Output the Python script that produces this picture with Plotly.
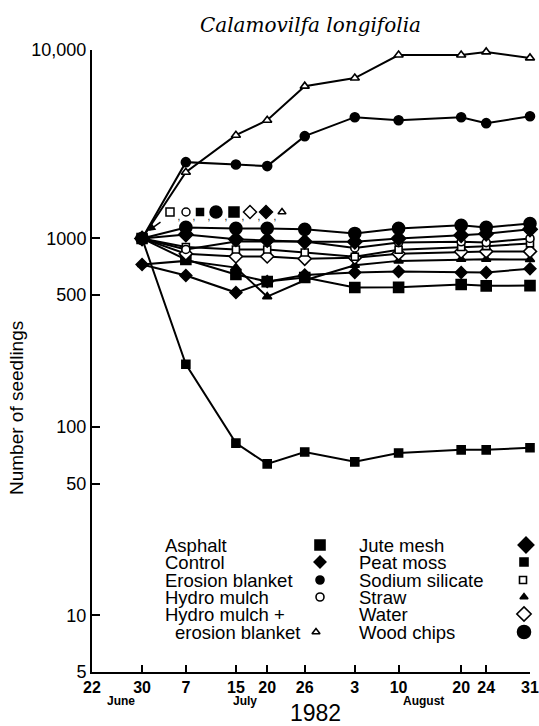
import plotly.graph_objects as go

# ---------------- data ----------------
dates = ["1982-06-30", "1982-07-07", "1982-07-15", "1982-07-20", "1982-07-26",
         "1982-08-03", "1982-08-10", "1982-08-20", "1982-08-24", "1982-08-31"]

hydro_mulch_erosion_blanket = [1000, 2245, 3530, 4240, 6430, 7100, 9400, 9400, 9770, 9080]
erosion_blanket = [1000, 2540, 2470, 2420, 3490, 4400, 4240, 4400, 4090, 4450]
wood_chips = [1000, 1144, 1130, 1130, 1117, 1063, 1130, 1173, 1144, 1201]
jute_mesh = [1000, 1050, 990, 980, 960, 960, 1000, 1040, 1060, 1117]
hydro_mulch = [1000, 874, 964, 964, 964, 890, 950, 960, 950, 1000]
sodium_silicate = [1000, 900, 874, 874, 842, 800, 870, 900, 910, 941]
water = [1000, 830, 802, 802, 780, 790, 830, 850, 853, 853]
straw = [727, 760, 700, 491, 600, 720, 760, 775, 775, 773]
control = [727, 636, 516, 590, 640, 660, 668, 660, 660, 690]
asphalt = [1000, 773, 643, 590, 620, 549, 550, 569, 560, 562]
peat_moss = [1000, 215, 82, 63.6, 73.6, 65.2, 72.7, 75.5, 75.5, 77.4]

x_tick_dates = ["1982-06-22", "1982-06-30", "1982-07-07", "1982-07-15", "1982-07-20",
                "1982-07-26", "1982-08-03", "1982-08-10", "1982-08-20", "1982-08-24",
                "1982-08-31"]
x_tick_text = ["22", "30", "7", "15", "20", "26", "3", "10", "20", "24", "31"]
y_tick_vals = [5, 10, 50, 100, 500, 1000, 10000]
y_tick_text = ["5", "10", "50", "100", "500", "1000", "10,000"]

title_text = "Calamovilfa longifolia"
y_title = "Number of seedlings"
year_text = "1982"
month_labels = ["June", "July", "August"]

legend_col1 = ["Asphalt", "Control", "Erosion blanket", "Hydro mulch", "Hydro mulch +", "erosion blanket"]
legend_col2 = ["Jute mesh", "Peat moss", "Sodium silicate", "Straw", "Water", "Wood chips"]

# ---------------- styles ----------------
series = [
    ("Hydro mulch + erosion blanket", hydro_mulch_erosion_blanket, "triangle-up", 8, False),
    ("Erosion blanket", erosion_blanket, "circle", 9, True),
    ("Peat moss", peat_moss, "square", 8, True),
    ("Asphalt", asphalt, "square", 10, True),
    ("Control", control, "diamond", 9, True),
    ("Straw", straw, "triangle-up", 8, True),
    ("Water", water, "diamond", 10, False),
    ("Sodium silicate", sodium_silicate, "square", 7, False),
    ("Hydro mulch", hydro_mulch, "circle", 8, False),
    ("Jute mesh", jute_mesh, "diamond", 11, True),
    ("Wood chips", wood_chips, "circle", 12, True),
]

L, R, T, B = 92, 530, 50, 672
W, H = 539, 726


def px(x):
    return (x - L) / (R - L)


def py(y):
    return (B - y) / (B - T)


FONT = "Liberation Sans, Arial, sans-serif"

fig = go.Figure()
for name, vals, sym, size, filled in series:
    fig.add_trace(go.Scatter(
        x=dates, y=vals, mode="lines+markers", name=name,
        line=dict(color="black", width=2),
        marker=dict(symbol=sym, size=size, color="black" if filled else "white",
                    line=dict(color="black", width=1.6)),
        cliponaxis=False, showlegend=False,
    ))

# ---- legend markers on an overlay axis in paper units ----
leg_rows = [545, 562, 580, 597, 614, 632]
col1_markers = [("square", 10, True, 320, 0), ("diamond", 9, True, 320, 1),
                ("circle", 8, True, 320, 2), ("circle", 8, False, 320, 3),
                ("triangle-up", 7, False, 316, 5)]
col2_markers = [("diamond", 12, True, 526, 0), ("square", 8, True, 524, 1),
                ("square", 7, False, 523, 2), ("triangle-up", 7, True, 524, 3),
                ("diamond", 11, False, 524, 4), ("circle", 13, True, 524, 5)]
for sym, size, filled, mx, row in col1_markers + col2_markers:
    fig.add_trace(go.Scatter(
        x=[px(mx)], y=[py(leg_rows[row])], xaxis="x2", yaxis="y2", mode="markers",
        marker=dict(symbol=sym, size=size, color="black" if filled else "white",
                    line=dict(color="black", width=1.6)),
        showlegend=False, hoverinfo="skip", cliponaxis=False,
    ))

# ---- row of symbols above the start point ----
sym_row = [("square", 8, False, 170), ("circle", 8, False, 186), ("square", 7, True, 200),
           ("circle", 12, True, 216), ("square", 10, True, 234), ("diamond", 10, False, 250),
           ("diamond", 10, True, 266), ("triangle-up", 7, False, 282)]
for sym, size, filled, mx in sym_row:
    fig.add_trace(go.Scatter(
        x=[px(mx)], y=[py(212)], xaxis="x2", yaxis="y2", mode="markers",
        marker=dict(symbol=sym, size=size, color="black" if filled else "white",
                    line=dict(color="black", width=1.5)),
        showlegend=False, hoverinfo="skip", cliponaxis=False,
    ))
comma_x = [(a[3] + b[3]) / 2 + 1 for a, b in zip(sym_row[:-1], sym_row[1:])]
fig.add_trace(go.Scatter(
    x=[px(c) for c in comma_x], y=[py(217)] * len(comma_x), xaxis="x2", yaxis="y2",
    mode="text", text=[","] * len(comma_x), textfont=dict(size=10, color="black", family=FONT),
    showlegend=False, hoverinfo="skip", cliponaxis=False,
))

annotations = []
for i, lab in enumerate(legend_col1):
    annotations.append(dict(x=px(163 if i < 5 else 173), y=py(leg_rows[i]), xref="paper", yref="paper",
                            text=lab, showarrow=False, xanchor="left", yanchor="middle",
                            font=dict(family=FONT, size=18.5, color="black")))
for i, lab in enumerate(legend_col2):
    annotations.append(dict(x=px(357), y=py(leg_rows[i]), xref="paper", yref="paper",
                            text=lab, showarrow=False, xanchor="left", yanchor="middle",
                            font=dict(family=FONT, size=18.5, color="black")))
annotations.append(dict(x=px(310), y=py(25), xref="paper", yref="paper",
                        text="<i>" + title_text + "</i>", showarrow=False,
                        xanchor="center", yanchor="middle",
                        font=dict(family="DejaVu Serif, serif", size=20, color="black")))
annotations.append(dict(x=px(16), y=py(408), xref="paper", yref="paper", text=y_title,
                        textangle=-90, showarrow=False, xanchor="center", yanchor="middle",
                        font=dict(family=FONT, size=19, color="black")))
for lab, cx in zip(month_labels, [121, 245, 423]):
    annotations.append(dict(x=px(cx), y=py(701), xref="paper", yref="paper", text="<b>" + lab + "</b>",
                            showarrow=False, xanchor="center", yanchor="middle",
                            font=dict(family=FONT, size=12, color="black")))
annotations.append(dict(x=px(315), y=py(713), xref="paper", yref="paper", text=year_text,
                        showarrow=False, xanchor="center", yanchor="middle",
                        font=dict(family=FONT, size=23, color="black")))
annotations.append(dict(x=px(148), y=py(231), xref="paper", yref="paper", text="",
                        showarrow=True, ax=14, ay=-10, arrowhead=2, arrowsize=1,
                        arrowwidth=1.5, arrowcolor="black"))

fig.update_layout(
    width=W, height=H,
    margin=dict(l=L, r=W - R, t=T, b=H - B, autoexpand=False),
    paper_bgcolor="white", plot_bgcolor="white",
    showlegend=False,
    xaxis=dict(type="date", range=["1982-06-22", "1982-08-31"],
               tickvals=x_tick_dates, ticktext=x_tick_text, automargin=False,
               showline=True, linecolor="black", linewidth=2, mirror=False,
               ticks="inside", ticklen=7, tickwidth=2, tickcolor="black",
               showgrid=False, zeroline=False,
               tickfont=dict(family=FONT, size=16, color="black", weight="bold")),
    yaxis=dict(type="log", range=[0.69897, 4], automargin=False,
               tickvals=y_tick_vals, ticktext=y_tick_text,
               showline=True, linecolor="black", linewidth=2,
               ticks="inside", ticklen=8, tickwidth=2, tickcolor="black",
               showgrid=False, zeroline=False,
               tickfont=dict(family=FONT, size=18, color="black")),
    xaxis2=dict(overlaying="x", range=[0, 1], visible=False, anchor="y2"),
    yaxis2=dict(overlaying="y", range=[0, 1], visible=False, anchor="x2"),
    annotations=annotations,
)

fig.write_html("out.html", config={"displayModeBar": False},
               post_script="document.body.style.margin='0';document.body.style.padding='0';")
